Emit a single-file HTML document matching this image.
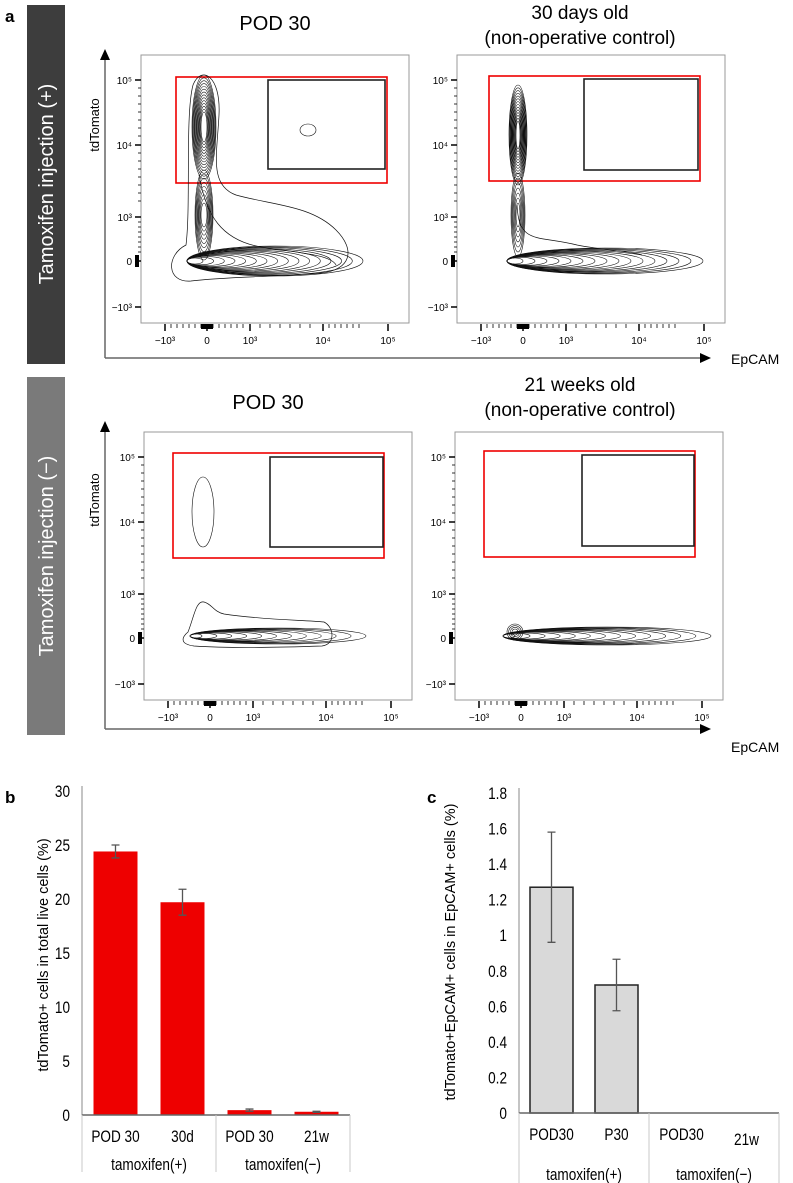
<!DOCTYPE html>
<html><head><meta charset="utf-8"><style>
html,body{margin:0;padding:0;background:#fff;}
svg{display:block;font-family:"Liberation Sans",sans-serif;}
</style></head><body>
<svg id="fig" width="793" height="1183" viewBox="0 0 793 1183" xmlns="http://www.w3.org/2000/svg">
<text x="5" y="22" font-size="17" font-weight="bold">a</text>
<rect x="27" y="5" width="38" height="359" fill="#3d3d3d"/>
<text transform="translate(53,184) rotate(-90)" text-anchor="middle" font-size="20" fill="#fff">Tamoxifen injection (+)</text>
<rect x="27" y="377" width="38" height="358" fill="#7a7a7a"/>
<text transform="translate(53,556) rotate(-90)" text-anchor="middle" font-size="20" fill="#fff">Tamoxifen injection (−)</text>

<text x="275" y="30" text-anchor="middle" font-size="20">POD 30</text>
<text x="580" y="19" text-anchor="middle" font-size="19">30 days old</text>
<text x="580" y="44" text-anchor="middle" font-size="19">(non-operative control)</text>
<text x="268" y="409" text-anchor="middle" font-size="20">POD 30</text>
<text x="580" y="391" text-anchor="middle" font-size="19">21 weeks old</text>
<text x="580" y="416" text-anchor="middle" font-size="19">(non-operative control)</text>

<line x1="105" y1="58" x2="105" y2="358" stroke="#666" stroke-width="1.5"/>
<polygon points="100,60 110,60 105,49" fill="#000"/>
<line x1="105" y1="358" x2="700" y2="358" stroke="#666" stroke-width="1.5"/>
<polygon points="700,353 700,363 711,358" fill="#000"/>
<text transform="translate(99,125) rotate(-90)" text-anchor="middle" font-size="13">tdTomato</text>
<text x="731" y="364" font-size="14">EpCAM</text>
<line x1="105" y1="430" x2="105" y2="729" stroke="#666" stroke-width="1.5"/>
<polygon points="100,432 110,432 105,421" fill="#000"/>
<line x1="105" y1="729" x2="700" y2="729" stroke="#666" stroke-width="1.5"/>
<polygon points="700,724 700,734 711,729" fill="#000"/>
<text transform="translate(99,500) rotate(-90)" text-anchor="middle" font-size="13">tdTomato</text>
<text x="731" y="752" font-size="14">EpCAM</text>

<g id="plots"></g>

<text x="5" y="803" font-size="17" font-weight="bold">b</text>
<text transform="translate(48,955) rotate(-90)" text-anchor="middle" font-size="14.5">tdTomato+ cells in total live cells (%)</text>
<g id="chartb"></g>
<text x="427" y="803" font-size="17" font-weight="bold">c</text>
<text transform="translate(455,952) rotate(-90)" text-anchor="middle" font-size="14.5">tdTomato+EpCAM+ cells in EpCAM+ cells (%)</text>
<g id="chartc"></g>
</svg>
<script>
const bCategories = ["POD 30","30d","POD 30","21w"];
const bValues = [24.4, 19.7, 0.45, 0.3];
const bErrors = [0.6, 1.2, 0.1, 0.05];
const bTicks = [0,5,10,15,20,25,30];
const bGroups = ["tamoxifen(+)","tamoxifen(−)"];
const cCategories = ["POD30","P30","POD30","21w"];
const cValues = [1.27, 0.72, 0, 0];
const cErrors = [0.31, 0.145, 0, 0];
const cTicks = [0,0.2,0.4,0.6,0.8,1,1.2,1.4,1.6,1.8];
const cTickLabels = ["0","0.2","0.4","0.6","0.8","1","1.2","1.4","1.6","1.8"];
const cGroups = ["tamoxifen(+)","tamoxifen(−)"];

const NS="http://www.w3.org/2000/svg";
function mk(tag,attrs,parent){const e=document.createElementNS(NS,tag);for(const k in attrs)e.setAttribute(k,attrs[k]);parent.appendChild(e);return e;}
function ntext(g,x,y,anchor,str){
  const t=mk('text',{transform:`translate(${x},${y}) scale(0.8,1)`,'text-anchor':anchor,'font-size':17},g);
  t.textContent=str;
  return t;
}

function barChart(g,cfg){
  const y=v=>cfg.y0-v/cfg.max*(cfg.y0-cfg.yTop);
  const x=i=>cfg.x0+cfg.step*(i+0.5);
  cfg.ticks.forEach((t,i)=>{
    const tx=ntext(g,cfg.x0-12,y(t)+6,'end',cfg.tickLabels?cfg.tickLabels[i]:String(t));
    
    
  });
  const ax=mk('line',{x1:cfg.x0,y1:cfg.yTop-5,x2:cfg.x0,y2:cfg.y0,stroke:'#888','stroke-width':1},g);
  
  
  cfg.values.forEach((v,i)=>{
    const bw=cfg.bw, cx=x(i);
    const r=mk('rect',{x:cx-bw/2,y:y(v),width:bw,height:y(0)-y(v),fill:cfg.fill,stroke:cfg.stroke||'none','stroke-width':cfg.stroke?1.5:0},g);
    
    
    const e=cfg.errors[i];
    if(e>0){
      const eb=mk('path',{d:`M${cx},${y(v+e)}V${y(v-e)}M${cx-4},${y(v+e)}h8M${cx-4},${y(v-e)}h8`,stroke:'#555','stroke-width':1.3,fill:'none'},g);
      
      
    }
    const t=ntext(g,cx,cfg.labY+(cfg.cats[i]==='21w'&&cfg.shift21?5:0),'middle',cfg.cats[i]);
    
    
  });
  const xa=mk('line',{x1:cfg.x0,y1:cfg.y0,x2:cfg.x0+cfg.step*4,y2:cfg.y0,stroke:'#666','stroke-width':1.5},g);
  
  
  [0,2,4].forEach(k=>{
    const s=mk('line',{x1:cfg.x0+cfg.step*k,y1:cfg.y0,x2:cfg.x0+cfg.step*k,y2:cfg.sepEnd,stroke:'#c8c8c8','stroke-width':1},g);
    
    
  });
  cfg.groups.forEach((gname,k)=>{
    const t=ntext(g,cfg.x0+cfg.step*(2*k+1),cfg.grpY,'middle',gname);
    
    
  });
}
barChart(document.getElementById('chartb'),{x0:82,y0:1115,yTop:791,max:30,step:67,bw:44,fill:'#ee0000',
  ticks:bTicks,values:bValues,errors:bErrors,cats:bCategories,groups:bGroups,labY:1142,grpY:1170,sepEnd:1172});
barChart(document.getElementById('chartc'),{x0:519,y0:1113,yTop:793,max:1.8,step:65,bw:43,fill:'#d9d9d9',stroke:'#222',
  ticks:cTicks,tickLabels:cTickLabels,values:cValues,errors:cErrors,cats:cCategories,groups:cGroups,labY:1140,grpY:1180,sepEnd:1185,shift21:true});

const plotOrigins=[[141,55],[457,55],[144,432],[455,432]];
const yTickRel=[25,90,162,206,252];
const yTickLab=["10⁵","10⁴","10³","0","−10³"];
const xTickRel=[24,66,109,182,247];
const xTickLab=["−10³","0","10³","10⁴","10⁵"];
const gates=[[35,22,211,106,127,25,117,89],[32,21,211,105,127,24,114,91],[29,21,211,105,126,25,113,90],[29,19,211,106,127,23,112,91]];
const plotsG=document.getElementById('plots');
function nested(g,cx,cy,rx,ry,n,minRx,minRy,anchorLeft){
  for(let i=0;i<n;i++){
    const f=i/(n-1||1);
    const a=rx-(rx-minRx)*f, b=ry-(ry-minRy)*f;
    const x=anchorLeft!==undefined?anchorLeft+a:cx;
    const e=mk('ellipse',{cx:x,cy:cy,rx:a,ry:b,fill:'none',stroke:'#111','stroke-width':0.6},g);
    
    
  }
}
plotOrigins.forEach((o,p)=>{
  const g=mk('g',{transform:`translate(${o[0]},${o[1]})`},plotsG);
  
  
  const box=mk('rect',{x:0,y:0,width:268,height:268,fill:'none',stroke:'#999','stroke-width':1},g);
  
  
  yTickRel.forEach((ty,i)=>{
    mk('line',{x1:-6,y1:ty,x2:0,y2:ty,stroke:'#000','stroke-width':1.5},g);
    for(let k=1;k<8&&i<3;k++){mk('line',{x1:-3,y1:ty+k*(i==2?5:8),x2:0,y2:ty+k*(i==2?5:8),stroke:'#000','stroke-width':0.8},g);}
    const t=mk('text',{x:-9,y:ty+4,'text-anchor':'end','font-size':10},g);
    t.textContent=yTickLab[i];
    
    
  });
  mk('rect',{x:-6,y:200,width:4,height:12,fill:'#000'},g);
  xTickRel.forEach((tx,i)=>{
    mk('line',{x1:tx,y1:269,x2:tx,y2:276,stroke:'#000','stroke-width':1.5},g);
    for(let k=1;k<7&&i<4;k++){mk('line',{x1:tx+k*(i==2?10:6),y1:269,x2:tx+k*(i==2?10:6),y2:273,stroke:'#000','stroke-width':0.8},g);}
    const t=mk('text',{x:tx,y:289,'text-anchor':'middle','font-size':10},g);
    t.textContent=xTickLab[i];
    
    
  });
  mk('rect',{x:60,y:269,width:12,height:5,fill:'#000'},g);
  const gt=gates[p];
  const rg=mk('rect',{x:gt[0],y:gt[1],width:gt[2],height:gt[3],fill:'none',stroke:'#e00','stroke-width':1.6},g);
  
  
  const bg=mk('rect',{x:gt[4],y:gt[5],width:gt[6],height:gt[7],fill:'none',stroke:'#222','stroke-width':1.6},g);
  
  
  if(p===0){
    const env=mk('path',{d:'M52,30 C60,10 80,20 78,60 C76,100 68,130 95,140 C130,150 170,150 195,175 C215,195 210,215 180,218 C130,222 80,222 50,226 C25,228 25,200 45,190 C50,150 44,60 52,30Z',fill:'none',stroke:'#111','stroke-width':0.7},g);
    
    
    mk('path',{d:'M58,120 C65,160 80,185 120,192 C160,198 190,200 195,210',fill:'none',stroke:'#111','stroke-width':0.7},g);
    nested(g,63,72,12,52,14,3,15);
    nested(g,63,160,9,45,9,3,12);
    nested(g,0,206,88,15,16,8,3,46);
    nested(g,167,75,8,6,1,8,6);
  } else if(p===1){
    nested(g,61,80,9,50,14,2,14);
    nested(g,61,160,7,42,7,2,12);
    nested(g,0,206,98,13,16,8,3,50);
    mk('path',{d:'M60,150 C62,190 80,180 120,190 C150,196 175,196 185,200',fill:'none',stroke:'#111','stroke-width':0.7},g);
  } else if(p===2){
    nested(g,59,80,11,35,1,11,35);
    const env=mk('path',{d:'M44,200 C50,185 52,168 60,170 C68,172 70,180 80,182 C120,188 160,188 180,190 C190,195 192,212 178,214 C120,216 80,216 50,214 C35,212 38,205 44,200Z',fill:'none',stroke:'#111','stroke-width':0.7},g);
    
    
    nested(g,0,204,88,8,12,6,2,46);
  } else {
    nested(g,0,204,104,9,14,6,2,48);
    nested(g,60,200,8,8,4,3,3);
  }
});
</script>
</body></html>
